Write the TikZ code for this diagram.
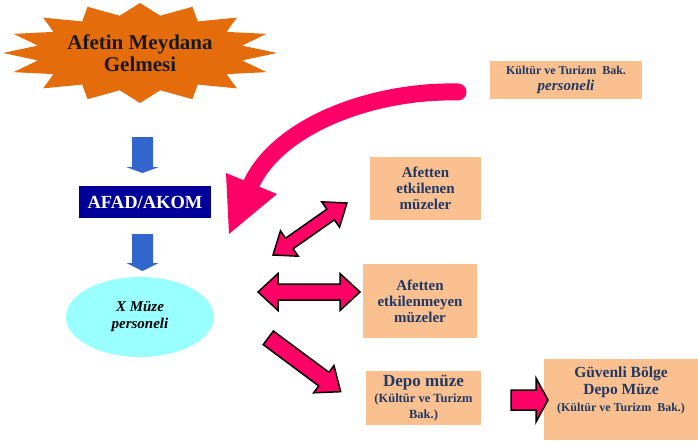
\documentclass[tikz,border=0pt]{standalone}
\usepackage{fontspec}
\setmainfont{Liberation Serif}
\usetikzlibrary{calc,shapes.geometric}
\definecolor{orangeC}{HTML}{E46C0A}
\definecolor{pinkC}{HTML}{FF0066}
\definecolor{blueA}{HTML}{3366CC}
\definecolor{navyBox}{HTML}{000099}
\definecolor{cyanE}{HTML}{99FFFF}
\definecolor{peach}{HTML}{FAC090}
\definecolor{navyT}{HTML}{1F3864}
\tikzset{
  peachbox/.style={fill=peach, inner sep=0pt, align=center, text=navyT,
    font=\bfseries\fontsize{15}{16}\selectfont},
  blockarr/.style={fill=pinkC, draw=black, line width=1.5pt, line join=miter},
  bluearr/.style={fill=blueA},
}
\newcommand\sglarrow[5]{%
  \draw[blockarr] let \p1=(#1), \p2=(#2),
    \n1={atan2((\y2)-(\y1),(\x2)-(\x1))}, \n2={veclen((\x2)-(\x1),(\y2)-(\y1))} in
    [shift={(\p1)}, rotate=\n1]
    (0,#3) -- ({\n2-#5},#3) -- ({\n2-#5},#4) -- (\n2,0) -- ({\n2-#5},-#4)
    -- ({\n2-#5},-#3) -- (0,-#3) -- cycle;}
\newcommand\dblarrow[5]{%
  \draw[blockarr] let \p1=(#1), \p2=(#2),
    \n1={atan2((\y2)-(\y1),(\x2)-(\x1))}, \n2={veclen((\x2)-(\x1),(\y2)-(\y1))} in
    [shift={(\p1)}, rotate=\n1]
    (0,0) -- (#5,#4) -- (#5,#3) -- ({\n2-#5},#3) -- ({\n2-#5},#4) -- (\n2,0)
    -- ({\n2-#5},-#4) -- ({\n2-#5},-#3) -- (#5,-#3) -- (#5,-#4) -- cycle;}
\begin{document}
\begin{tikzpicture}[x=1pt,y=-1pt]
\useasboundingbox (0,0) rectangle (698,442);

% starburst
\fill[orangeC] (277,53)
  \foreach \k in {0,...,15} {
    -- ({140+104*cos(\k*22.5+11.25)},{53-38*sin(\k*22.5+11.25)})
    -- ({140+137*cos((\k+1)*22.5)},{53-50*sin((\k+1)*22.5)})
  } -- cycle;
\node[font=\bfseries\fontsize{21}{22}\selectfont, align=center, text=black!90]
  (afet) at (140,53) {Afetin Meydana\\Gelmesi};

% AFAD box
\node[fill=navyBox, text=white, minimum width=132pt, minimum height=32pt, inner sep=0pt,
  font=\bfseries\fontsize{18.5}{20}\selectfont] (afad) at (145,202) {AFAD/AKOM};

% ellipse
\node[ellipse, fill=cyanE, minimum width=148pt, minimum height=80pt, inner sep=0pt,
  align=center, font=\bfseries\itshape\fontsize{15}{17}\selectfont] (xm) at (140,317)
  {X Müze\\personeli};

% blue arrows
\coordinate (b1) at (142.5,137);
\coordinate (b2) at (142.5,234);
\fill[bluearr] (b1) ++(-10.5,0) -- ++(21,0) -- ++(0,30) -- ++(6,0) -- ++(-16.5,6)
  -- ++(-16.5,-6) -- ++(6,0) -- cycle;
\fill[bluearr] (b2) ++(-10.5,0) -- ++(21,0) -- ++(0,29) -- ++(5.5,0) -- ++(-16,8)
  -- ++(-16,-8) -- ++(5.5,0) -- cycle;

% peach boxes
\node[peachbox, minimum width=152pt, minimum height=38pt] (kt) at (566,80)
  {\fontsize{12}{14}\selectfont Kültür ve Turizm\ \ Bak.\\\fontsize{15}{16}\selectfont\itshape personeli};
\node[peachbox, minimum width=111pt, minimum height=63pt] (ae) at (425.5,188.5)
  {Afetten\\etkilenen\\müzeler};
\node[peachbox, minimum width=114pt, minimum height=74pt] (aem) at (420,301)
  {Afetten\\etkilenmeyen\\müzeler};
\node[peachbox, minimum width=115pt, minimum height=54pt] (dm) at (423.5,398)
  {\fontsize{17}{17}\selectfont Depo müze\\\fontsize{12.5}{14}\selectfont (Kültür ve Turizm\\\fontsize{12.5}{13}\selectfont Bak.)};
\node[peachbox, minimum width=154pt, minimum height=81pt] (gb) at (621,399.5) {};
\node[align=center, text=navyT, font=\bfseries\fontsize{15.5}{17}\selectfont, inner sep=0pt]
  (gbt) at (621,390)
  {Güvenli Bölge\\Depo Müze\\\fontsize{12}{15}\selectfont (Kültür ve Turizm\ \ Bak.)};

% curved pink arrow
\coordinate (k1) at (458,92);
\coordinate (k2) at (251.5,183.5);
\draw[pinkC, line width=17pt, line cap=round] (k1) .. controls (375,90) and (280,124) .. (k2);
\fill[pinkC] (226,173) -- (277,194) -- (229,234) -- cycle;

% block arrows
\coordinate (d1a) at (273,255);
\coordinate (d1b) at (347,203);
\coordinate (d2a) at (258,292);
\coordinate (d2b) at (360,292);
\coordinate (s1a) at (268.3,337.8);
\coordinate (s1b) at (340.7,391.7);
\coordinate (s2a) at (511,400);
\coordinate (s2b) at (548,400);
\dblarrow{d1a}{d1b}{6.5}{15.5}{20}
\dblarrow{d2a}{d2b}{8}{18.5}{20}
\sglarrow{s1a}{s1b}{8.5}{17}{21}
\sglarrow{s2a}{s2b}{10}{22}{12}
\end{tikzpicture}
\end{document}
